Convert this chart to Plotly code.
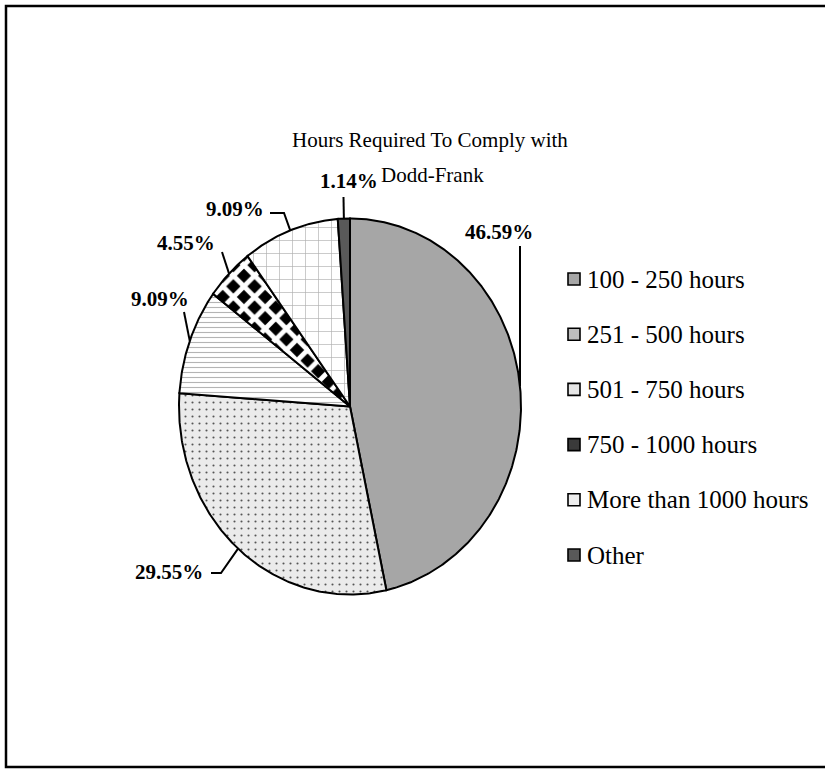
import numpy as np
import plotly.graph_objects as go

# ---- data -------------------------------------------------------------
categories = [
    "100 - 250 hours",
    "251 - 500 hours",
    "501 - 750 hours",
    "750 - 1000 hours",
    "More than 1000 hours",
    "Other",
]
shares = [46.59, 29.55, 9.09, 4.55, 9.09, 1.14]
title_lines = ["Hours Required To Comply with", "Dodd-Frank"]

# ---- layout constants (pixel space) -------------------------------------
W, H = 825, 769
CX, CY = 350.0, 406.5          # pie centre
RX, RY = 171.0, 188.0          # pie radii (slightly tall ellipse)
SERIF = "Liberation Serif"

# slice styling
slice_styles = [
    dict(fillcolor="#a6a6a6"),
    dict(fillpattern=dict(shape=".", bgcolor="#ebebeb", fgcolor="#555555", fgopacity=1,
                          size=7, solidity=0.07)),
    dict(fillpattern=dict(shape="-", bgcolor="#ffffff", fgcolor="#b4b4b4", fgopacity=1,
                          size=5, solidity=0.22)),
    dict(fillpattern=dict(shape="x", bgcolor="#000000", fgcolor="#ffffff", fgopacity=1,
                          size=15, solidity=0.55)),
    dict(fillpattern=dict(shape="+", bgcolor="#ffffff", fgcolor="#b0b0b0", fgopacity=1,
                          size=13, solidity=0.1)),
    dict(fillcolor="#595959"),
]
legend_colors = ["#a6a6a6", "#bdbdbd", "#e6e6e6", "#3a3a3a", "#eeeeee", "#595959"]

# label centres and leader-line elbows for each slice
label_pos = [(499, 232), (169, 572), (159.5, 299), (186, 243), (235, 209), (349, 181)]
leader_start = [
    [(520, 246)],
    [(211, 573), (221, 573)],
    [(184, 312)],
    [(222, 252)],
    [(270, 213), (284, 213)],
    [(343.5, 197)],
]

LEG_X_MARK, LEG_X_TEXT = 574, 585
LEG_Y0, LEG_DY = 279, 55.2


def edge_point(theta):
    """Point on the pie rim; theta in degrees, clockwise from 12 o'clock."""
    t = np.radians(theta)
    return CX + RX * np.sin(t), CY - RY * np.cos(t)


fig = go.Figure()

total = float(sum(shares))
start = 0.0
mids = []
for i, (cat, v) in enumerate(zip(categories, shares)):
    sweep = 360.0 * v / total
    thetas = np.linspace(start, start + sweep, max(4, int(sweep * 2)))
    xs, ys = edge_point(thetas)
    px = np.concatenate([[CX], xs, [CX]])
    py = np.concatenate([[CY], ys, [CY]])
    fig.add_trace(go.Scatter(
        x=px, y=py, mode="lines", fill="toself",
        line=dict(color="black", width=2),
        name=cat, showlegend=False, hoverinfo="skip",
        **slice_styles[i],
    ))
    mids.append(start + sweep / 2)
    start += sweep

# leader lines from each label to the middle of its slice rim
for i, mid in enumerate(mids):
    ex, ey = edge_point(mid)
    pts = leader_start[i] + [(ex, ey)]
    fig.add_trace(go.Scatter(
        x=[p[0] for p in pts], y=[p[1] for p in pts], mode="lines",
        line=dict(color="black", width=2), showlegend=False, hoverinfo="skip",
    ))
    lx, ly = label_pos[i]
    fig.add_annotation(
        x=lx, y=ly, text=f"<b>{shares[i]:.2f}%</b>", showarrow=False,
        font=dict(family=SERIF, size=21, color="black"),
        xanchor="center", yanchor="middle",
    )

# legend: square swatches plus labels
leg_y = [LEG_Y0 + k * LEG_DY for k in range(len(categories))]
fig.add_trace(go.Scatter(
    x=[LEG_X_MARK] * len(categories), y=leg_y, mode="markers",
    marker=dict(symbol="square", size=12, color=legend_colors,
                line=dict(color="black", width=1.6)),
    showlegend=False, hoverinfo="skip",
))
for k, cat in enumerate(categories):
    fig.add_annotation(
        x=LEG_X_TEXT, y=leg_y[k], text=cat, showarrow=False,
        font=dict(family=SERIF, size=25, color="black"),
        xanchor="left", yanchor="middle",
    )

# two-line title
for txt, (tx, ty) in zip(title_lines, [(430, 140), (432, 175)]):
    fig.add_annotation(
        x=tx, y=ty, text=txt, showarrow=False,
        font=dict(family=SERIF, size=21, color="black"),
        xanchor="center", yanchor="middle",
    )

# frame around the chart: top, left and bottom edges
fig.add_shape(type="path", xref="x", yref="y",
              path="M 900,6 L 6,6 L 6,767 L 900,767",
              line=dict(color="black", width=2.5))

fig.update_xaxes(visible=False, range=[0, W], fixedrange=True)
fig.update_yaxes(visible=False, range=[H, 0], fixedrange=True)
fig.update_layout(
    width=W, height=H, autosize=False,
    margin=dict(l=0, r=0, t=0, b=0),
    paper_bgcolor="white", plot_bgcolor="white",
    showlegend=False,
)

fig.write_html("out.html")
